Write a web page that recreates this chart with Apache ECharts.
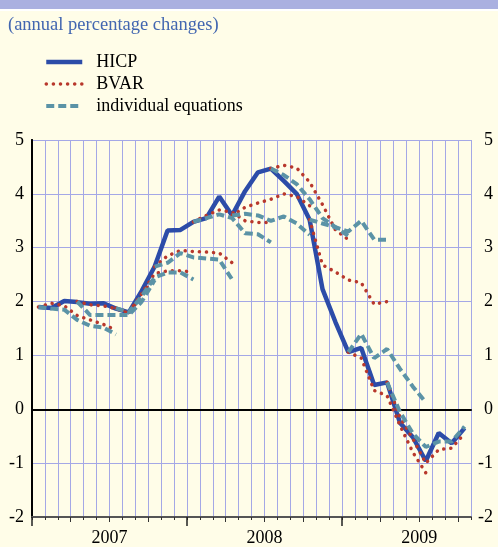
<!DOCTYPE html>
<html>
<head>
<meta charset="utf-8">
<script src="https://cdn.jsdelivr.net/npm/echarts@6/dist/echarts.min.js"></script>
<style>
  html, body { margin: 0; padding: 0; background: #fffde8; }
  #chart { width: 498px; height: 547px; }
</style>
</head>
<body>
<div id="chart"></div>
<script>
// monthly categories, Jan 2007 - Oct 2009
const months = [
  "2007-01", "2007-02", "2007-03", "2007-04", "2007-05", "2007-06",
  "2007-07", "2007-08", "2007-09", "2007-10", "2007-11", "2007-12",
  "2008-01", "2008-02", "2008-03", "2008-04", "2008-05", "2008-06",
  "2008-07", "2008-08", "2008-09", "2008-10", "2008-11", "2008-12",
  "2009-01", "2009-02", "2009-03", "2009-04", "2009-05", "2009-06",
  "2009-07", "2009-08", "2009-09", "2009-10"
];
const yearLabels = ["2007", "2008", "2009"];

// actual HICP
const hicp = [
  1.90, 1.88, 2.01, 1.99, 1.96, 1.97, 1.87, 1.80, 2.20, 2.65, 3.32, 3.33,
  3.48, 3.55, 3.95, 3.60, 4.05, 4.40, 4.47, 4.24, 4.00, 3.52, 2.23, 1.62,
  1.06, 1.14, 0.45, 0.50, -0.25, -0.52, -0.96, -0.44, -0.63, -0.35
];

// forecast paths: index of the month where each path starts
const pathStarts = [0, 3, 6, 9, 12, 15, 18, 21, 24, 27];

// BVAR forecasts
const bvarPaths = [
  [1.90, 1.97, 1.92, 1.74, 1.66, 1.58, 1.47],
  [2.00, 1.94, 1.92, 1.87, 1.78, 2.12, 2.45],
  [1.88, 1.80, 2.15, 2.52, 2.57, 2.57, 2.55],
  [2.65, 2.85, 2.95, 2.93, 2.92, 2.90, 2.72],
  [3.48, 3.60, 3.70, 3.66, 3.50, 3.47, 3.47],
  [3.60, 3.75, 3.83, 3.90, 4.00, 3.95, 3.78],
  [4.47, 4.53, 4.48, 4.22, 3.80, 3.33, 3.15],
  [3.52, 2.68, 2.55, 2.40, 2.35, 1.95, 2.00],
  [1.06, 0.95, 0.35, 0.25, -0.30, -0.80, -1.18],
  [0.50, -0.15, -0.55, -1.00, -0.75, -0.72, -0.45]
];

// individual equations forecasts
const eqPaths = [
  [1.90, 1.87, 1.85, 1.66, 1.55, 1.52, 1.39],
  [2.00, 1.75, 1.75, 1.75, 1.75, 2.00, 2.40],
  [1.88, 1.80, 2.10, 2.45, 2.54, 2.54, 2.41],
  [2.65, 2.72, 2.90, 2.82, 2.80, 2.78, 2.41],
  [3.48, 3.55, 3.62, 3.55, 3.27, 3.25, 3.10],
  [3.60, 3.63, 3.60, 3.50, 3.58, 3.45, 3.24],
  [4.47, 4.35, 4.18, 3.90, 3.55, 3.38, 3.22],
  [3.52, 3.45, 3.38, 3.30, 3.50, 3.15, 3.15],
  [1.06, 1.40, 0.95, 1.12, 0.75, 0.42, 0.13],
  [0.50, -0.05, -0.45, -0.70, -0.60, -0.60, -0.32]
];

const FONT = "Liberation Serif";
const GRID_COLOR = "#a4a8e6";
const BLUE = "#2c4ca8";
const RED = "#b8382c";
const TEAL = "#5b93a6";

// place a path on the monthly axis, nulls elsewhere
function toSeriesData(start, values) {
  const out = months.map(() => null);
  values.forEach((v, k) => { out[start + k] = v; });
  return out;
}

const series = [
  {
    name: "HICP",
    type: "line",
    data: hicp,
    symbol: "none",
    itemStyle: { color: BLUE },
    lineStyle: { color: BLUE, width: 4.5 },
    z: 2
  }
];
bvarPaths.forEach((p, i) => {
  series.push({
    name: "BVAR",
    type: "line",
    data: toSeriesData(pathStarts[i], p),
    symbol: "none",
    itemStyle: { color: RED },
    lineStyle: { color: RED, width: 3.5, type: [0.1, 7], cap: "round" },
    z: 3
  });
});
eqPaths.forEach((p, i) => {
  series.push({
    name: "individual equations",
    type: "line",
    data: toSeriesData(pathStarts[i], p),
    symbol: "none",
    itemStyle: { color: TEAL },
    lineStyle: { color: TEAL, width: 4, type: [8, 4] },
    z: 4
  });
});

const chart = echarts.init(document.getElementById("chart"));
chart.setOption({
  backgroundColor: "#fffde8",
  animation: false,
  graphic: [
    { type: "rect", shape: { x: 0, y: 0, width: 498, height: 9 }, style: { fill: "#aab0e0" } },
    { type: "rect", shape: { x: 0, y: 9, width: 498, height: 2 }, style: { fill: "#ffffff" } }
  ],
  title: {
    text: "(annual percentage changes)",
    left: 3,
    top: 11,
    textStyle: { fontFamily: FONT, fontSize: 18.5, fontWeight: "normal", color: "#4266b0" }
  },
  legend: {
    orient: "vertical",
    left: 39,
    top: 48,
    itemWidth: 36,
    itemHeight: 14,
    itemGap: 4,
    itemStyle: { opacity: 0 },
    lineStyle: { width: "inherit", type: "inherit", cap: "inherit" },
    data: ["HICP", "BVAR", "individual equations"],
    textStyle: { fontFamily: FONT, fontSize: 18, color: "#000", padding: [0, 0, 0, 9] }
  },
  grid: { left: 32, right: 27, top: 140, bottom: 27 },
  xAxis: [
    {
      // months: vertical grid lines and small ticks
      type: "category",
      position: "bottom",
      data: months,
      boundaryGap: true,
      axisLine: { onZero: false, lineStyle: { color: "#555", width: 2 } },
      axisTick: { show: true, interval: 0, length: 3, lineStyle: { color: "#333" } },
      axisLabel: { show: false },
      splitLine: { show: true, interval: 0, lineStyle: { color: GRID_COLOR, width: 1 } }
    },
    {
      // quarter ticks
      type: "value",
      position: "bottom",
      min: 0,
      max: 34,
      axisLine: { show: false, onZero: false },
      axisTick: { show: true, length: 5, customValues: [3, 6, 9, 15, 18, 21, 27, 30, 33], lineStyle: { color: "#333" } },
      axisLabel: { show: false },
      splitLine: { show: false }
    },
    {
      // year ticks and labels
      type: "value",
      position: "bottom",
      min: 0,
      max: 34,
      axisLine: { show: false, onZero: false },
      axisTick: { show: true, length: 9, customValues: [0, 12, 24], lineStyle: { color: "#222", width: 1.5 } },
      axisLabel: {
        show: true,
        customValues: [6, 18, 30],
        formatter: (v) => yearLabels[Math.round((v - 6) / 12)],
        margin: 12,
        fontFamily: FONT,
        fontSize: 18,
        color: "#000"
      },
      splitLine: { show: false }
    },
    {
      // zero line
      type: "value",
      position: "bottom",
      min: 0,
      max: 34,
      axisLine: { show: true, onZero: true, lineStyle: { color: "#000", width: 2 } },
      axisTick: { show: false },
      axisLabel: { show: false },
      splitLine: { show: false }
    }
  ],
  yAxis: [
    {
      type: "value",
      min: -2,
      max: 5,
      interval: 1,
      position: "left",
      axisLine: { show: true, lineStyle: { color: "#000", width: 2 } },
      axisTick: { show: false },
      axisLabel: { margin: 8, fontFamily: FONT, fontSize: 18, color: "#000" },
      splitLine: { show: true, lineStyle: { color: GRID_COLOR, width: 1 } }
    },
    {
      type: "value",
      min: -2,
      max: 5,
      interval: 1,
      position: "right",
      axisLine: { show: true, lineStyle: { color: "#000", width: 2 } },
      axisTick: { show: false },
      axisLabel: { margin: 22, align: "right", fontFamily: FONT, fontSize: 18, color: "#000" },
      splitLine: { show: false }
    }
  ],
  series: series
});
</script>
</body>
</html>
